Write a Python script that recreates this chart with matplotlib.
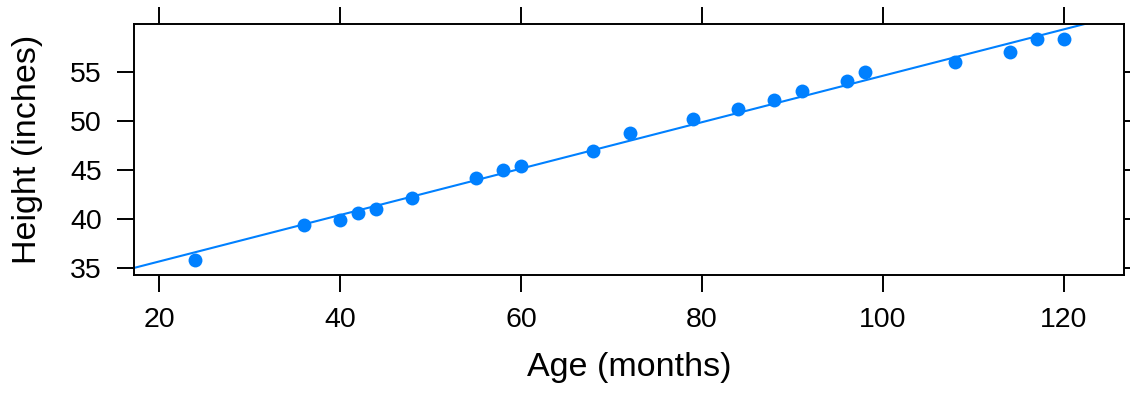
import numpy as np
import matplotlib
matplotlib.use("Agg")
import matplotlib.pyplot as plt

plt.rcParams['font.family'] = ['Liberation Sans', 'DejaVu Sans']

# age (months) and height (inches)
age = [24, 36, 40, 42, 44, 48, 55, 58, 60, 68, 72, 79, 84, 88, 91, 96, 98, 108, 114, 117, 120]
height = [35.86, 39.45, 39.93, 40.67, 41.05, 42.16, 44.2, 44.98, 45.42, 46.94, 48.74,
          50.2, 51.18, 52.12, 53.07, 54.02, 54.97, 55.99, 57.0, 58.29, 58.29]

x_ticks = [20, 40, 60, 80, 100, 120]
y_ticks = [35, 40, 45, 50, 55]

blue = "#0080ff"

fig = plt.figure(figsize=(11.3, 3.94), dpi=100)
ax = fig.add_axes([134 / 1130, 1 - 275 / 394, 990 / 1130, 251 / 394])

ax.plot(age, height, "o", color=blue, markersize=10, markeredgewidth=0, zorder=3)

# least squares line across the whole panel
slope, intercept = np.polyfit(age, height, 1)
xlim = (17.24, 126.63)
xs = np.array(xlim)
ax.plot(xs, intercept + slope * xs, color=blue, linewidth=1.5, zorder=2)

ax.set_xlim(*xlim)
ax.set_ylim(34.32, 59.85)
ax.set_xticks(x_ticks)
ax.set_yticks(y_ticks)

for s in ax.spines.values():
    s.set_linewidth(1.4)
ax.tick_params(direction="out", length=12, width=1.4, labelsize=20.5, pad=11,
               top=True, right=True, labeltop=False, labelright=False)

ax.set_xlabel("Age (months)", fontsize=24.5, labelpad=14)
ax.set_ylabel("Height (inches)", fontsize=24.5, labelpad=20)

fig.savefig("out.png", dpi=100)
